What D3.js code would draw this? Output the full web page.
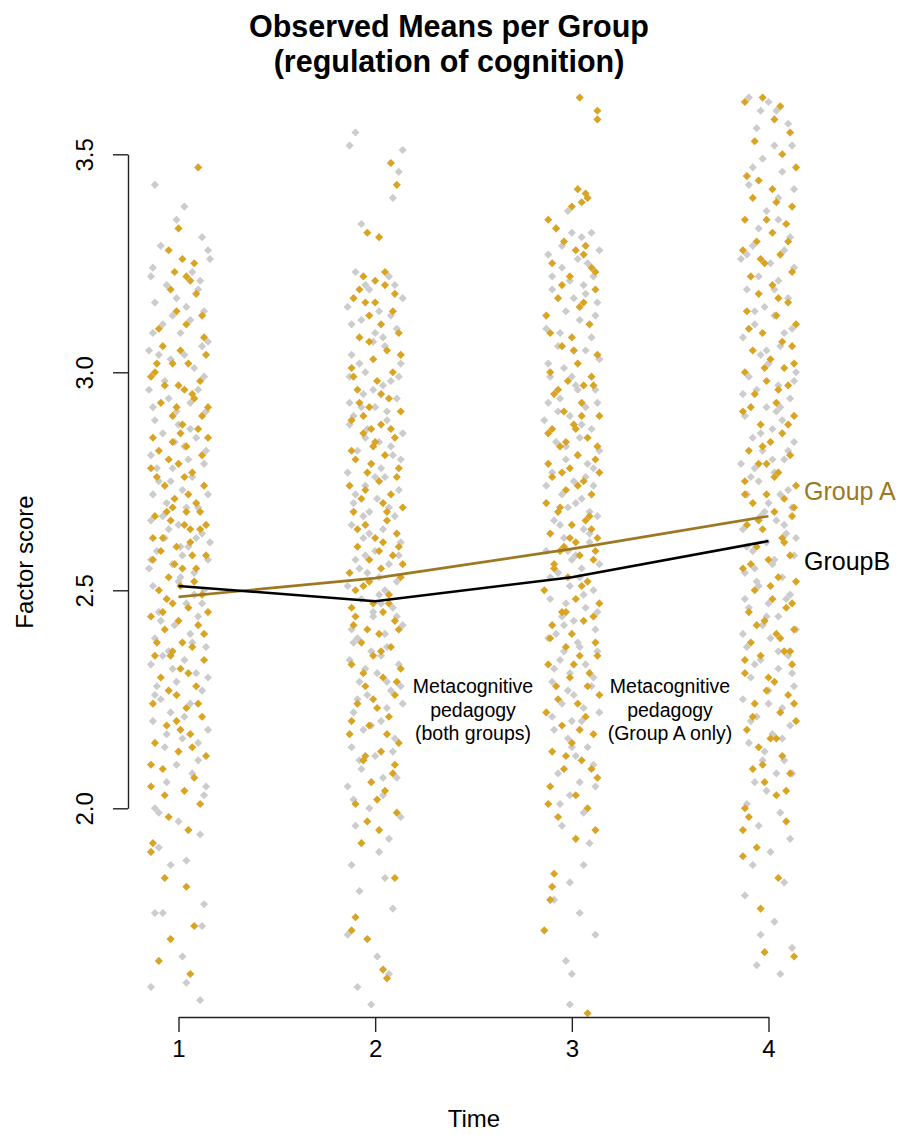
<!DOCTYPE html>
<html><head><meta charset="utf-8">
<script src="https://cdn.jsdelivr.net/npm/d3@7"></script>
<style>html,body{margin:0;padding:0;background:#fff;}svg{display:block;}</style>
</head><body>
<svg id="chart" width="898" height="1135"></svg>
<script>
// ---- data ----
const timeTicks = [1, 2, 3, 4];
const yTicks = [2.0, 2.5, 3.0, 3.5];
const groupAMeans = [2.485, 2.528, 2.595, 2.670];
const groupBMeans = [2.510, 2.475, 2.530, 2.613];
const titleLines = ["Observed Means per Group", "(regulation of cognition)"];
const annot1 = ["Metacognitive", "pedagogy", "(both groups)"];
const annot2 = ["Metacognitive", "pedagogy", "(Group A only)"];

// jittered observations [time, factor score]; gold = Group A, grey = Group B
const goldT1 = [[1.10,3.47],[1.00,3.33],[1.04,3.22],[0.98,3.23],[1.06,3.21],[1.12,3.13],[0.95,3.28],[1.09,3.18],[0.90,3.10],[1.01,3.05],[1.13,3.08],[0.97,3.02],[1.05,3.02],[0.88,3.00],[1.11,2.98],[0.93,2.97],[1.03,2.96],[1.07,2.95],[0.86,2.99],[1.14,3.04],[0.99,3.14],[1.08,3.25],
[0.91,2.93],[0.97,2.90],[1.02,2.88],[1.10,2.87],[0.87,2.85],[1.04,2.83],[1.12,2.81],[0.95,2.80],[1.00,2.79],[1.07,2.77],[0.89,2.76],[0.93,2.74],[1.13,2.74],[1.05,2.72],[0.98,2.71],[1.09,2.70],[0.86,2.78],[1.01,2.86],[0.94,2.68],[1.15,2.92],
[0.88,2.67],[0.96,2.66],[1.03,2.65],[1.11,2.64],[0.92,2.62],[1.06,2.61],[0.99,2.60],[1.14,2.58],[0.87,2.57],[1.02,2.55],[0.95,2.53],[1.08,2.52],[0.90,2.50],[1.12,2.49],[0.97,2.47],[1.05,2.46],[0.86,2.44],[1.00,2.43],[1.10,2.42],[0.93,2.41],[1.04,2.68],[0.98,2.56],[1.15,2.45],
[0.89,2.38],[1.07,2.37],[0.96,2.35],[1.13,2.34],[1.01,2.32],[0.91,2.30],[1.09,2.28],[0.99,2.26],[0.87,2.24],[1.04,2.23],[1.12,2.21],[0.94,2.19],[1.06,2.17],[0.88,2.15],[1.00,2.13],[1.14,2.12],[0.97,2.36],
[0.92,2.09],[1.08,2.07],[0.86,2.05],[1.03,2.04],[1.11,2.01],[0.95,1.98],[0.87,1.92],[0.86,1.90],[1.05,1.95],
[0.93,1.84],[1.04,1.82],[1.08,1.73],[0.96,1.70],[0.90,1.65],[1.06,1.62],
[0.96,3.19],[1.02,3.26],[0.92,3.06],[1.08,2.94],[0.99,2.92],[1.15,2.85],[0.90,2.82],[1.03,2.76],[1.11,2.68],[0.97,2.69],[1.06,2.64],[0.91,2.59],[1.01,2.51],[1.09,2.55],[0.94,2.48],[1.13,2.40],[1.02,2.38],[0.88,2.35],[1.05,2.31],[0.95,2.27],[1.10,2.24],[0.99,2.20],[0.86,2.10],[1.07,2.14],[0.93,2.03],[1.12,2.90],[0.89,3.02],[1.04,3.11],[0.97,2.84],[1.07,2.58],[0.92,2.45],[1.01,2.18],[1.14,2.65],[0.87,2.62],[1.00,2.97]];
const greyT1 = [[0.88,3.43],[1.03,3.38],[0.99,3.35],[1.12,3.31],[1.15,3.28],[1.16,3.26],
[0.86,3.22],[0.94,3.20],[1.10,3.19],[0.88,3.16],[0.99,3.17],[1.06,3.12],[0.92,3.11],[1.15,3.07],[0.85,3.05],[1.01,3.09],[0.96,3.03],[1.08,3.01],[0.90,3.04],[1.13,2.99],[1.04,3.15],[0.87,3.24],[1.11,3.21],
[0.85,2.96],[0.95,2.94],[1.06,2.93],[1.14,2.91],[0.88,2.89],[1.00,2.88],[0.92,2.86],[1.09,2.85],[1.03,2.83],[0.86,2.81],[1.13,2.79],[0.97,2.78],[1.07,2.76],[0.90,2.75],[1.02,2.73],[1.15,2.72],[0.94,2.70],[1.10,2.69],[0.99,2.91],[0.87,2.72],[1.05,2.80],
[0.86,2.66],[1.00,2.65],[1.12,2.63],[0.93,2.62],[1.05,2.60],[0.89,2.59],[1.15,2.57],[0.97,2.56],[1.08,2.54],[1.01,2.53],[0.87,2.51],[1.13,2.50],[0.94,2.48],[1.04,2.47],[0.90,2.45],[1.10,2.44],[0.98,2.42],[1.06,2.40],[0.85,2.55],[1.16,2.61],[0.92,2.67],[1.02,2.58],
[0.88,2.39],[1.14,2.37],[0.95,2.36],[1.03,2.34],[0.86,2.33],[1.09,2.31],[0.99,2.29],[1.12,2.27],[0.91,2.25],[1.06,2.24],[0.96,2.22],[0.87,2.20],[1.15,2.18],[1.02,2.16],[0.93,2.14],[1.10,2.11],[0.89,2.28],
[1.07,2.08],[0.94,2.06],[1.13,2.03],[0.88,2.00],[1.00,1.97],[1.11,1.94],[0.90,1.91],[1.04,1.88],[0.96,1.87],
[1.13,1.78],[0.88,1.76],[0.92,1.76],[1.12,1.73],[1.04,1.60],[0.86,1.59],[1.11,1.56],[1.02,1.66],
[0.91,3.29],[1.07,3.23],[0.97,3.13],[1.13,3.14],[0.87,3.09],[1.03,3.04],[0.93,2.98],[1.10,2.96],[0.98,2.84],[1.14,2.82],[0.89,2.78],[1.04,2.69],[0.95,2.64],[1.09,2.62],[0.86,2.57],[1.00,2.52],[1.12,2.47],[0.91,2.43],[1.07,2.38],[0.97,2.32],[1.15,2.30],[0.88,2.26],[1.03,2.21],[0.94,2.17],[1.10,2.15],[0.99,2.10],[1.14,2.05],[0.90,1.99],[1.06,2.87],[0.96,2.75],[1.01,2.60],[0.92,2.35],[1.08,2.49],[0.87,2.92],[1.12,3.06]];
const goldT2 = [[2.08,3.48],[2.11,3.43],[1.96,3.32],[2.02,3.31],
[1.94,3.22],[2.00,3.21],[2.05,3.20],[1.89,3.17],[2.10,3.18],[1.97,3.13],[2.03,3.11],[1.92,3.08],[2.12,3.09],[2.06,3.05],[1.99,3.03],[1.88,3.01],[2.09,3.00],[1.95,3.16],
[2.01,2.98],[1.91,2.96],[2.07,2.94],[1.97,2.92],[2.13,2.91],[1.88,2.89],[2.03,2.88],[1.94,2.86],[2.10,2.85],[1.99,2.83],[2.05,2.81],[1.90,2.80],[2.12,2.78],[1.96,2.77],[2.02,2.75],[1.87,2.74],[2.08,2.72],[1.93,2.71],[2.04,2.70],[2.14,2.69],[1.98,2.79],
[1.89,2.68],[2.06,2.66],[1.95,2.65],[2.11,2.63],[2.00,2.62],[1.91,2.60],[2.09,2.58],[1.97,2.57],[2.03,2.55],[1.87,2.54],[2.13,2.53],[1.94,2.51],[2.07,2.49],[1.99,2.47],[2.04,2.45],[1.90,2.44],[2.10,2.43],[1.96,2.41],[2.02,2.40],[1.88,2.46],[2.12,2.60],
[1.93,2.38],[2.08,2.37],[1.99,2.35],[1.88,2.33],[2.13,2.32],[2.04,2.30],[1.95,2.28],[2.10,2.26],[1.91,2.24],[2.01,2.23],[2.07,2.21],[1.97,2.19],[1.87,2.17],[2.12,2.15],[2.03,2.13],[1.94,2.11],
[2.09,2.08],[1.98,2.06],[2.05,2.04],[1.90,2.01],[2.11,1.99],[1.96,1.97],[2.02,1.95],[1.93,1.92],
[2.10,1.84],[1.90,1.75],[1.88,1.72],[1.96,1.70],[2.04,1.63],[2.06,1.61],
[2.05,3.23],[1.92,3.19],[2.09,3.14],[1.97,3.07],[2.13,3.04],[1.89,2.99],[2.03,2.95],[1.94,2.90],[2.08,2.87],[2.00,2.84],[1.88,2.82],[2.11,2.76],[1.95,2.73],[2.06,2.68],[1.91,2.64],[2.02,2.59],[2.14,2.56],[1.97,2.52],[2.07,2.47],[1.89,2.42],[2.03,2.36],[1.94,2.31],[2.11,2.29],[1.99,2.25],[1.88,2.20],[2.06,2.17],[1.95,2.12],[2.10,2.10],[2.01,2.02],[1.92,2.93],[2.04,2.61],[1.98,2.87],[2.12,2.41],[1.90,2.50],[2.00,3.16]];
const greyT2 = [[1.90,3.55],[1.87,3.52],[2.14,3.51],[2.12,3.46],[2.09,3.40],[1.93,3.34],
[1.90,3.23],[2.07,3.22],[1.97,3.19],[2.14,3.17],[1.86,3.15],[2.02,3.14],[1.93,3.12],[2.11,3.10],[1.99,3.07],[2.05,3.06],[1.88,3.04],[2.13,3.02],[1.95,3.00],[2.08,3.13],[2.00,3.09],
[1.87,2.99],[2.04,2.97],[1.94,2.95],[2.11,2.94],[2.00,2.92],[1.89,2.90],[2.06,2.89],[1.96,2.87],[2.14,2.86],[2.02,2.84],[1.91,2.82],[2.09,2.81],[1.98,2.79],[1.86,2.77],[2.05,2.76],[1.95,2.74],[2.12,2.73],[2.01,2.71],[1.89,2.70],[2.08,2.83],[1.93,2.92],[2.03,2.78],
[1.97,2.68],[2.10,2.67],[1.88,2.65],[2.04,2.64],[1.94,2.62],[2.13,2.61],[2.00,2.59],[1.90,2.57],[2.07,2.56],[1.96,2.54],[2.11,2.52],[1.86,2.51],[2.02,2.49],[1.93,2.48],[2.09,2.46],[1.99,2.44],[2.14,2.42],[1.88,2.41],[2.05,2.40],[1.95,2.58],[2.03,2.47],
[1.91,2.39],[2.06,2.37],[1.98,2.36],[1.87,2.34],[2.12,2.33],[2.01,2.31],[1.92,2.29],[2.08,2.27],[1.96,2.26],[2.14,2.24],[1.89,2.22],[2.03,2.20],[1.94,2.18],[2.10,2.16],[1.88,2.14],[2.00,2.12],[2.06,2.29],
[1.93,2.09],[2.11,2.07],[1.86,2.05],[2.04,2.03],[1.97,2.00],[2.13,1.98],[1.90,1.96],[2.07,1.93],[2.02,1.90],
[1.88,1.87],[2.05,1.84],[1.92,1.81],[2.09,1.77],[1.86,1.71],[2.01,1.66],[2.07,1.62],[1.91,1.59],[1.98,1.55],
[1.95,3.20],[2.10,3.20],[1.88,3.11],[2.04,3.08],[1.92,3.02],[2.12,2.99],[1.99,2.96],[1.87,2.93],[2.06,2.91],[1.95,2.85],[2.13,2.80],[2.00,2.76],[1.90,2.72],[2.07,2.69],[1.97,2.63],[2.12,2.58],[1.92,2.55],[2.05,2.50],[1.99,2.45],[2.11,2.44],[1.89,2.38],[2.03,2.35],[1.95,2.32],[2.13,2.28],[1.91,2.25],[2.06,2.23],[1.98,2.19],[2.09,2.13],[1.92,2.11],[2.04,2.07],[1.89,2.02],[2.08,2.98],[1.94,2.67],[2.02,2.53],[1.87,2.88]];
const goldT3 = [[3.04,3.63],[3.13,3.60],[3.13,3.58],[3.03,3.42],[3.07,3.41],[3.08,3.40],[3.00,3.38],[2.88,3.35],[3.05,3.39],
[2.96,3.30],[3.07,3.29],[2.90,3.25],[3.10,3.24],[2.99,3.22],[3.12,3.19],[2.93,3.17],[3.04,3.15],[2.87,3.13],[3.09,3.11],[3.00,3.08],[2.95,3.06],[3.13,3.04],[3.03,3.02],[2.89,3.00],[3.06,3.27],
[2.98,2.98],[3.11,2.97],[2.91,2.95],[3.05,2.93],[2.96,2.91],[3.14,2.90],[3.01,2.88],[2.88,2.86],[3.08,2.85],[2.94,2.83],[3.03,2.81],[3.12,2.80],[2.99,2.78],[2.90,2.76],[3.06,2.75],[2.97,2.73],[3.10,2.72],[2.87,2.70],[3.02,2.87],[3.14,2.77],
[2.93,2.68],[3.07,2.66],[3.00,2.65],[2.89,2.63],[3.13,2.62],[2.96,2.60],[3.04,2.58],[3.11,2.57],[2.91,2.55],[2.98,2.53],[3.08,2.52],[2.86,2.50],[3.02,2.48],[3.14,2.47],[2.95,2.45],[3.06,2.43],[2.90,2.42],[3.00,2.40],[3.10,2.64],[2.94,2.59],
[3.12,2.38],[2.97,2.37],[3.04,2.35],[2.88,2.33],[3.09,2.31],[2.99,2.30],[2.92,2.28],[3.14,2.26],[3.03,2.24],[2.87,2.22],[3.07,2.21],[2.95,2.19],[3.11,2.17],[3.00,2.15],[2.90,2.13],[3.05,2.11],
[2.96,2.09],[3.13,2.07],[2.89,2.05],[3.02,2.03],[3.08,2.00],[2.93,1.98],[3.12,1.95],[3.02,1.93],
[2.91,1.85],[2.90,1.82],[2.89,1.79],[2.86,1.72],[3.08,1.53],
[2.92,3.33],[3.02,3.28],[3.12,3.23],[2.95,3.20],[3.06,3.16],[2.89,3.09],[3.01,3.05],[3.10,2.99],[2.93,2.96],[3.05,2.90],[2.97,2.84],[3.13,2.83],[2.88,2.79],[3.03,2.74],[2.94,2.69],[3.09,2.67],[2.99,2.62],[3.12,2.59],[2.91,2.56],[3.05,2.51],[2.97,2.45],[3.11,2.44],[2.89,2.39],[3.01,2.33],[3.08,2.28],[2.93,2.25],[3.04,2.18],[2.97,2.12],[3.10,2.09],[2.88,2.01],[3.06,2.97],[2.95,2.77],[3.02,2.61],[3.13,2.35],[2.90,2.87]];
const greyT3 = [[2.98,3.37],[2.92,3.33],[3.00,3.32],[3.05,3.31],[3.10,3.32],[3.14,3.28],
[2.88,3.27],[3.03,3.26],[2.95,3.24],[3.11,3.22],[2.99,3.21],[2.90,3.19],[3.07,3.18],[3.13,3.16],[2.97,3.14],[3.04,3.12],[2.87,3.10],[3.10,3.08],[2.93,3.06],[3.01,3.05],[3.14,3.03],[2.96,3.01],[3.06,3.20],
[2.89,2.99],[3.02,2.97],[3.12,2.96],[2.94,2.94],[3.07,2.92],[2.99,2.90],[2.86,2.89],[3.10,2.87],[3.04,2.85],[2.92,2.84],[3.14,2.82],[2.97,2.80],[3.08,2.79],[2.90,2.77],[3.01,2.75],[3.11,2.74],[2.95,2.72],[3.05,2.71],[2.88,2.93],[3.03,2.81],
[2.98,2.69],[3.13,2.67],[2.91,2.66],[3.06,2.64],[2.96,2.62],[3.09,2.61],[2.87,2.59],[3.02,2.58],[3.14,2.56],[2.93,2.54],[3.04,2.53],[2.99,2.51],[3.11,2.50],[2.89,2.48],[3.07,2.46],[2.95,2.44],[3.01,2.43],[3.12,2.41],[2.92,2.40],[3.05,2.55],[2.97,2.47],[3.09,2.68],
[2.88,2.39],[3.03,2.38],[3.13,2.36],[2.94,2.34],[3.07,2.33],[2.99,2.31],[2.90,2.29],[3.10,2.28],[3.01,2.26],[2.95,2.24],[3.14,2.22],[3.05,2.20],[2.91,2.18],[2.98,2.16],[3.08,2.14],[3.02,2.12],[2.96,2.36],[3.00,2.20],
[3.11,2.10],[2.93,2.08],[3.04,2.06],[2.99,2.03],[3.06,1.99],[2.95,1.96],[3.09,1.92],
[3.06,1.87],[2.99,1.83],[2.91,1.79],[3.04,1.76],[3.12,1.71],[2.97,1.65],[3.00,1.62],[2.99,1.55],
[2.95,3.29],[3.08,3.25],[2.90,3.22],[3.01,3.17],[3.12,3.13],[2.94,3.09],[3.07,3.05],[2.88,3.02],[3.00,2.99],[3.13,2.93],[2.93,2.91],[3.05,2.88],[2.97,2.83],[3.11,2.78],[2.87,2.74],[3.02,2.70],[2.94,2.65],[3.09,2.63],[3.00,2.57],[2.89,2.53],[3.06,2.49],[3.13,2.45],[2.96,2.42],[3.04,2.37],[2.91,2.32],[3.11,2.30],[2.98,2.27],[3.06,2.23],[2.90,2.21],[3.00,2.14],[3.12,2.05],[2.94,2.01],[3.07,2.76],[2.98,2.59],[3.03,2.96]];
const goldT4 = [[3.88,3.62],[3.97,3.63],[4.06,3.61],[4.11,3.55],[4.14,3.47],[3.95,3.44],[3.92,3.40],[4.04,3.39],[4.12,3.38],[3.88,3.35],[3.99,3.35],[4.02,3.32],[4.09,3.34],[3.94,3.30],
[3.87,3.28],[4.06,3.27],[3.98,3.25],[4.12,3.23],[3.91,3.22],[4.02,3.20],[3.95,3.18],[4.10,3.16],[3.89,3.14],[4.04,3.13],[4.14,3.11],[3.97,3.09],[4.07,3.07],[3.92,3.05],[4.01,3.03],[4.13,3.02],[3.88,3.00],[4.08,3.01],
[3.99,2.98],[4.10,2.97],[3.93,2.95],[4.04,2.93],[3.87,2.91],[4.13,2.90],[3.96,2.88],[4.07,2.86],[4.01,2.84],[3.90,2.82],[4.11,2.81],[3.95,2.79],[4.05,2.77],[3.88,2.75],[4.14,2.74],[3.99,2.72],[4.08,2.71],[3.92,2.70],
[4.03,2.68],[4.12,2.67],[3.89,2.65],[3.97,2.64],[4.07,2.62],[3.94,2.60],[4.11,2.58],[4.00,2.57],[3.87,2.55],[4.05,2.53],[4.14,2.52],[3.93,2.50],[4.02,2.48],[4.09,2.46],[3.90,2.45],[3.98,2.43],[4.13,2.41],[4.04,2.40],
[3.91,2.38],[4.08,2.36],[3.96,2.35],[4.12,2.33],[3.88,2.31],[4.03,2.29],[3.99,2.27],[4.10,2.26],[3.93,2.24],[4.06,2.22],[4.14,2.20],[3.89,2.18],[4.01,2.16],[3.95,2.14],[4.07,2.12],
[3.92,2.09],[4.11,2.08],[3.98,2.06],[4.04,2.03],[3.88,2.00],[3.87,1.95],[4.09,1.97],[3.94,1.91],
[3.87,1.89],[4.05,1.84],[3.96,1.77],[3.98,1.67],[4.13,1.66],
[3.93,3.53],[4.07,3.50],[3.89,3.45],[4.02,3.42],[4.10,3.30],[3.96,3.26],[4.05,3.17],[3.90,3.10],[4.12,3.06],[3.98,3.01],[4.05,2.96],[3.91,2.92],[4.10,2.88],[3.97,2.83],[4.03,2.76],[3.88,2.72],[4.13,2.69],[3.95,2.66],[4.08,2.61],[3.91,2.56],[4.01,2.51],[4.12,2.47],[3.94,2.42],[4.06,2.39],[3.88,2.34],[4.00,2.30],[4.13,2.24],[3.92,2.21],[4.04,2.16],[3.97,2.10],[4.09,2.04],[3.90,1.98],[4.03,3.58],[3.99,2.79],[4.11,2.36]];
const greyT4 = [[3.90,3.63],[4.00,3.62],[4.04,3.60],[3.94,3.56],[4.10,3.57],[4.03,3.52],[3.97,3.49],[4.07,3.46],[3.90,3.43],[4.13,3.42],[3.99,3.37],[4.05,3.35],
[3.92,3.29],[4.08,3.28],[3.86,3.26],[4.01,3.25],[4.13,3.24],[3.95,3.22],[4.05,3.21],[3.89,3.19],[4.10,3.17],[3.98,3.15],[4.03,3.13],[3.93,3.11],[4.12,3.10],[3.87,3.08],[4.06,3.06],[3.96,3.04],[4.00,3.02],[4.14,3.00],
[3.90,2.99],[4.05,2.97],[3.94,2.96],[4.11,2.94],[3.99,2.92],[3.88,2.90],[4.07,2.89],[4.02,2.87],[3.92,2.85],[4.13,2.84],[3.97,2.82],[4.08,2.80],[3.86,2.79],[4.03,2.77],[3.95,2.75],[4.10,2.73],[3.89,2.72],[4.00,2.70],[4.06,2.92],[3.93,2.78],
[4.12,2.69],[3.96,2.67],[4.04,2.66],[3.87,2.64],[4.09,2.63],[3.99,2.61],[3.92,2.59],[4.13,2.58],[4.02,2.56],[3.88,2.54],[4.07,2.53],[3.95,2.51],[4.11,2.49],[4.00,2.47],[3.90,2.46],[4.05,2.44],[3.97,2.42],[4.14,2.41],[3.93,2.55],[4.08,2.65],
[4.01,2.39],[3.89,2.37],[4.10,2.35],[3.96,2.34],[4.05,2.32],[3.91,2.30],[4.13,2.28],[4.00,2.27],[3.87,2.25],[4.07,2.23],[3.94,2.21],[4.11,2.19],[4.02,2.17],[3.90,2.15],[3.98,2.13],[4.08,2.11],[4.04,2.08],[4.12,2.08],
[3.93,2.06],[3.99,2.04],[3.89,2.01],[4.06,1.99],[3.95,1.96],[4.11,1.93],[4.01,1.90],
[3.92,1.87],[4.08,1.83],[3.88,1.80],[4.03,1.74],[3.96,1.71],[4.12,1.68],[3.94,1.64],[4.06,1.62],
[3.96,3.60],[4.12,3.52],[3.92,3.47],[4.05,3.40],[3.95,3.33],[4.11,3.31],[3.89,3.27],[4.03,3.19],[3.93,3.14],[4.08,3.09],[3.99,3.05],[4.13,2.98],[3.87,2.95],[4.04,2.91],[3.96,2.86],[4.10,2.82],[3.91,2.76],[4.06,2.72],[3.98,2.68],[4.14,2.62],[3.89,2.60],[4.03,2.57],[3.94,2.52],[4.09,2.48],[3.99,2.44],[3.87,2.40],[4.05,2.36],[3.93,2.33],[4.12,2.31],[4.00,2.24],[3.91,2.20],[4.07,2.16],[3.97,2.11],[4.02,2.80],[3.88,2.48]];

// ---- drawing ----
const FONT = "'Liberation Sans', Arial, Helvetica, sans-serif";
const goldCol = "#D9A424", greyCol = "#CCCCCC", lineACol = "#9C7823";
const svg = d3.select("#chart");
svg.append("rect").attr("width", 898).attr("height", 1135).attr("fill", "#fff");

const x = d3.scaleLinear().domain([1, 4]).range([178.5, 768.5]);
const y = d3.scaleLinear().domain([2, 3.5]).range([808.3, 154.3]);

const diamond = d3.symbol().type(d3.symbolSquare).size(33);
function drawPts(data, col) {
  svg.append("g").selectAll("path").data(data).join("path")
    .attr("d", diamond)
    .attr("transform", d => `translate(${x(d[0])},${y(d[1])}) rotate(45)`)
    .attr("fill", col);
}
[greyT1, greyT2, greyT3, greyT4].forEach(a => drawPts(a, greyCol));
[goldT1, goldT2, goldT3, goldT4].forEach(a => drawPts(a, goldCol));

// axes
const yAxis = svg.append("g").attr("transform", "translate(128,0)")
  .call(d3.axisLeft(y).tickValues(yTicks).tickSize(15).tickSizeOuter(0).tickFormat(d3.format(".1f")));
yAxis.selectAll("text").attr("x", 0).attr("y", 0).attr("dy", 0)
  .attr("transform", "translate(-35,0) rotate(-90)")
  .attr("text-anchor", "middle").style("font-size", "24px").style("font-family", FONT).attr("fill", "#000");

const xAxis = svg.append("g").attr("transform", "translate(0,1017)")
  .call(d3.axisBottom(x).tickValues(timeTicks).tickSize(15).tickSizeOuter(0).tickFormat(d3.format("d")));
xAxis.selectAll("text").attr("y", 40).attr("dy", 0)
  .style("font-size", "24px").style("font-family", FONT).attr("fill", "#000");
svg.selectAll(".domain, .tick line").attr("stroke", "#222").attr("stroke-width", 1.4);

// mean lines
const line = d3.line().x((d, i) => x(timeTicks[i])).y(d => y(d));
svg.append("path").datum(groupAMeans).attr("d", line).attr("fill", "none")
  .attr("stroke", lineACol).attr("stroke-width", 2.6);
svg.append("path").datum(groupBMeans).attr("d", line).attr("fill", "none")
  .attr("stroke", "#000").attr("stroke-width", 2.6);

// labels
svg.append("text").attr("x", 804).attr("y", 500).text("Group A")
  .style("font-family", FONT).style("font-size", "25px").attr("fill", lineACol);
svg.append("text").attr("x", 804).attr("y", 570).text("GroupB")
  .style("font-family", FONT).style("font-size", "25px").attr("fill", "#000");

function annot(lines, cx) {
  lines.forEach((t, i) => svg.append("text").attr("x", cx).attr("y", 693 + i * 23.5)
    .attr("text-anchor", "middle").text(t)
    .style("font-family", FONT).style("font-size", "19.5px").attr("fill", "#000"));
}
annot(annot1, 473);
annot(annot2, 670);

// titles
titleLines.forEach((t, i) => svg.append("text").attr("x", 449).attr("y", 37 + i * 35)
  .attr("text-anchor", "middle").text(t)
  .style("font-family", FONT).style("font-size", "30.5px").style("font-weight", "bold").attr("fill", "#000"));

svg.append("text").attr("x", 474).attr("y", 1127).attr("text-anchor", "middle").text("Time")
  .style("font-family", FONT).style("font-size", "24px");
svg.append("text").attr("transform", "translate(33,562) rotate(-90)").attr("text-anchor", "middle")
  .text("Factor score").style("font-family", FONT).style("font-size", "24px");
</script>
</body></html>
